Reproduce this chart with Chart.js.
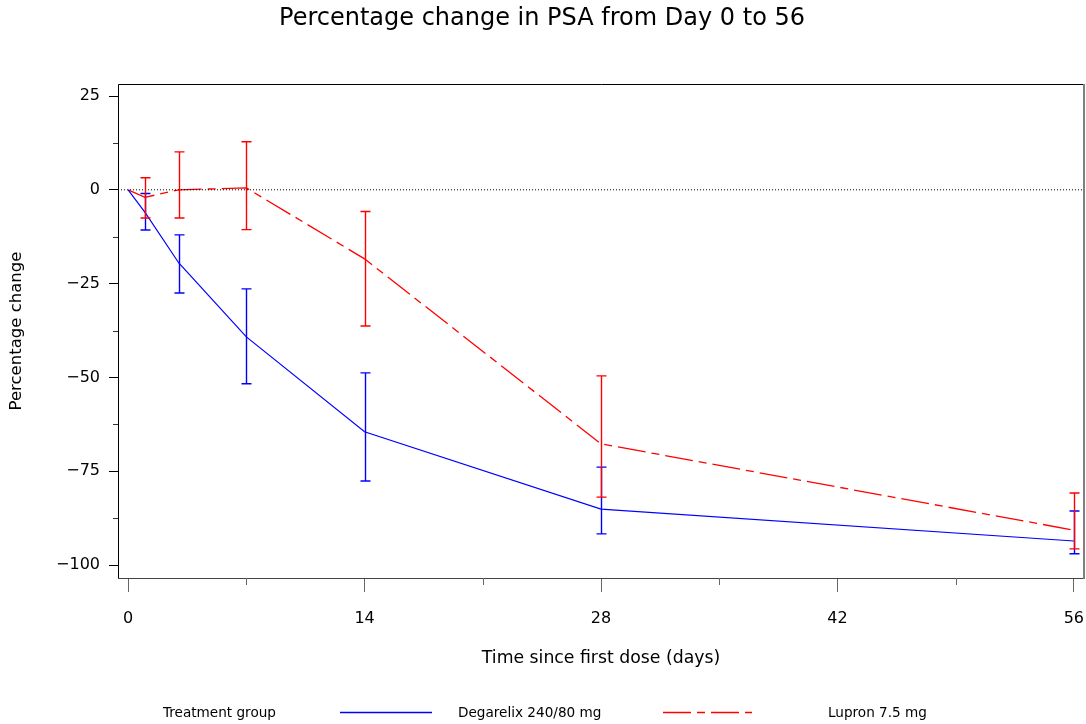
<!DOCTYPE html>
<html>
<head>
<meta charset="utf-8">
<script src="https://cdn.jsdelivr.net/npm/chart.js@4.4.1/dist/chart.umd.min.js"></script>
<style>
  html, body { margin: 0; padding: 0; background: #fff; }
  canvas { display: block; }
</style>
</head>
<body>
<canvas id="myChart" width="1086" height="724"></canvas>
<script>

// ========== data

const days = [0, 1, 3, 7, 14, 28, 56]

const degarelixMean = [0, -6, -19.5, -39.2, -64.5, -85.1, -93.6]
const degarelixLow  = [null, -10.7, -27.5, -51.7, -77.6, -91.7, -97.0]
const degarelixHigh = [null, -1.0, -12.0, -26.4, -48.8, -73.9, -85.6]

const lupronMean = [0, -2.0, 0.0, 0.5, -18.4, -67.7, -90.7]
const lupronLow  = [null, -7.5, -7.5, -10.6, -36.3, -81.9, -95.7]
const lupronHigh = [null, 3.2, 10.1, 12.8, -5.8, -49.6, -80.8]

const xMajorTicks = [0, 14, 28, 42, 56]
const xMinorTicks = [7, 21, 35, 49]
const yMajorTicks = [-100, -75, -50, -25, 0, 25]
const yMinorTicks = [-87.5, -62.5, -37.5, -12.5, 12.5]

const xRange = [-0.6, 56.6]
const yRange = [-103.46, 28.2]

const FONT = 'DejaVu Sans'


// ========== helpers

function pts(xs, ys){
	return xs.map((d, i) => ({x: d, y: ys[i]}));
}

function fmtMinus(v){
	return v < 0 ? '\u2212' + Math.abs(v) : String(v);
}


// ========== plugins

// frame round the plot area (right edge greyish like the original)
const framePlugin = {
	id: 'frame',
	beforeDatasetsDraw(chart){
		const {ctx, chartArea: a} = chart;
		ctx.save();
		ctx.lineWidth = 1;
		ctx.strokeStyle = '#000';
		ctx.beginPath();
		ctx.moveTo(a.right, a.top + 0.5);
		ctx.lineTo(a.left + 0.5, a.top + 0.5);
		ctx.lineTo(a.left + 0.5, a.bottom + 0.5);
		ctx.stroke();
		ctx.strokeStyle = '#444';
		ctx.beginPath();
		ctx.moveTo(a.left, a.bottom + 0.5);
		ctx.lineTo(a.right, a.bottom + 0.5);
		ctx.stroke();
		ctx.strokeStyle = '#808080';
		ctx.lineWidth = 2;
		ctx.beginPath();
		ctx.moveTo(a.right, a.top);
		ctx.lineTo(a.right, a.bottom + 1);
		ctx.stroke();
		ctx.restore();
	}
};

// short minor tick marks
const minorTicksPlugin = {
	id: 'minorTicks',
	afterDraw(chart){
		const {ctx, chartArea: a, scales: {x, y}} = chart;
		ctx.save();
		ctx.lineWidth = 1;
		ctx.strokeStyle = '#666';
		xMinorTicks.forEach(v => {
			const px = Math.round(x.getPixelForValue(v)) + 0.5;
			ctx.beginPath();
			ctx.moveTo(px, a.bottom);
			ctx.lineTo(px, a.bottom + 7);
			ctx.stroke();
		});
		ctx.strokeStyle = '#333';
		yMinorTicks.forEach(v => {
			const py = Math.round(y.getPixelForValue(v)) + 0.5;
			ctx.beginPath();
			ctx.moveTo(a.left - 5, py);
			ctx.lineTo(a.left, py);
			ctx.stroke();
		});
		ctx.restore();
	}
};

// vertical error bars with caps
const errorBarsPlugin = {
	id: 'errorBars',
	afterDatasetsDraw(chart){
		const {ctx, scales: {x, y}} = chart;
		chart.data.datasets.forEach(ds => {
			if (!ds.errLow) return;
			ctx.save();
			ctx.strokeStyle = ds.borderColor;
			ctx.lineWidth = 1.4;
			ctx.setLineDash([]);
			ds.data.forEach((p, i) => {
				if (ds.errLow[i] == null) return;
				const px = Math.round(x.getPixelForValue(p.x)) + 0.5;
				const y1 = y.getPixelForValue(ds.errLow[i]);
				const y2 = y.getPixelForValue(ds.errHigh[i]);
				ctx.beginPath();
				ctx.moveTo(px, y1); ctx.lineTo(px, y2);
				ctx.moveTo(px - 5, y1); ctx.lineTo(px + 5, y1);
				ctx.moveTo(px - 5, y2); ctx.lineTo(px + 5, y2);
				ctx.stroke();
			});
			ctx.restore();
		});
	}
};

// legend row at the bottom
const legendRowPlugin = {
	id: 'legendRow',
	afterDraw(chart){
		const ctx = chart.ctx;
		const ly = 713;
		const items = chart.data.datasets.filter(ds => ds.errLow);
		const slots = [{x1: 340, x2: 432, tx: 458}, {x1: 663, x2: 752, tx: 828}];
		ctx.save();
		ctx.font = '13.6px "' + FONT + '"';
		ctx.fillStyle = '#000';
		ctx.textBaseline = 'middle';
		ctx.fillText('Treatment group', 163, ly);
		items.forEach((ds, i) => {
			const s = slots[i];
			ctx.strokeStyle = ds.borderColor;
			ctx.lineWidth = 1.3;
			ctx.setLineDash(ds.borderDash || []);
			ctx.beginPath();
			ctx.moveTo(s.x1, ly - 0.5);
			ctx.lineTo(s.x2, ly - 0.5);
			ctx.stroke();
			ctx.setLineDash([]);
			ctx.fillText(ds.label, s.tx, ly);
		});
		ctx.restore();
	}
};


// ========== setup chartjs

var ctx1 = document.getElementById('myChart').getContext('2d');
let myChart = new Chart(ctx1, {
type: 'line',
data: {
	datasets: [
	{
		label: 'zero',
		data: pts(xRange, [0, 0]),
		borderColor: '#000',
		borderWidth: 1,
		borderDash: [1, 2],
		pointRadius: 0
	},
	{
		label: 'Degarelix 240/80 mg',
		data: pts(days, degarelixMean),
		errLow: degarelixLow,
		errHigh: degarelixHigh,
		borderColor: '#0000ff',
		borderWidth: 1.2,
		pointRadius: 0,
		tension: 0
	},
	{
		label: 'Lupron 7.5 mg',
		data: pts(days, lupronMean),
		errLow: lupronLow,
		errHigh: lupronHigh,
		borderColor: '#ff0000',
		borderWidth: 1.3,
		borderDash: [28, 6, 8, 6],
		pointRadius: 0,
		tension: 0
	}
	]
},
options: {
	responsive: false,
	animation: false,
	devicePixelRatio: 1,
	layout: {
		padding: {left: 0, right: 2, top: 0, bottom: 46}
	},
	plugins: {
		legend: {display: false},
		tooltip: {enabled: false},
		title: {
			display: true,
			text: 'Percentage change in PSA from Day 0 to 56',
			color: '#000',
			font: {family: FONT, size: 24, weight: 'normal'},
			padding: {top: 4, bottom: 51.2}
		}
	},
	scales: {
		x: {
			type: 'linear',
			min: xRange[0],
			max: xRange[1],
			afterFit: s => { s.height = 100; s.paddingLeft = 0; s.paddingRight = 0; },
			afterBuildTicks: s => { s.ticks = xMajorTicks.map(v => ({value: v})); },
			border: {display: false},
			grid: {
				display: true,
				drawOnChartArea: false,
				drawTicks: true,
				tickLength: 14,
				tickColor: '#666'
			},
			ticks: {
				color: '#000',
				padding: 17,
				maxRotation: 0,
				font: {family: FONT, size: 16},
				callback: v => fmtMinus(v)
			},
			title: {
				display: true,
				text: 'Time since first dose (days)',
				color: '#000',
				font: {family: FONT, size: 17.3},
				padding: {top: 0, bottom: 9}
			}
		},
		y: {
			type: 'linear',
			min: yRange[0],
			max: yRange[1],
			afterFit: s => { s.width = 118; s.paddingTop = 0; s.paddingBottom = 0; },
			afterBuildTicks: s => { s.ticks = yMajorTicks.map(v => ({value: v})); },
			border: {display: false},
			grid: {
				display: true,
				drawOnChartArea: false,
				drawTicks: true,
				tickLength: 9,
				tickColor: '#000'
			},
			ticks: {
				color: '#000',
				padding: 9,
				font: {family: FONT, size: 16},
				callback: v => fmtMinus(v)
			},
			title: {
				display: true,
				text: 'Percentage change',
				color: '#000',
				font: {family: FONT, size: 16.5},
				padding: {top: 7, bottom: 0}
			}
		}
	}
},
plugins: [framePlugin, minorTicksPlugin, errorBarsPlugin, legendRowPlugin]
});

</script>
</body>
</html>
